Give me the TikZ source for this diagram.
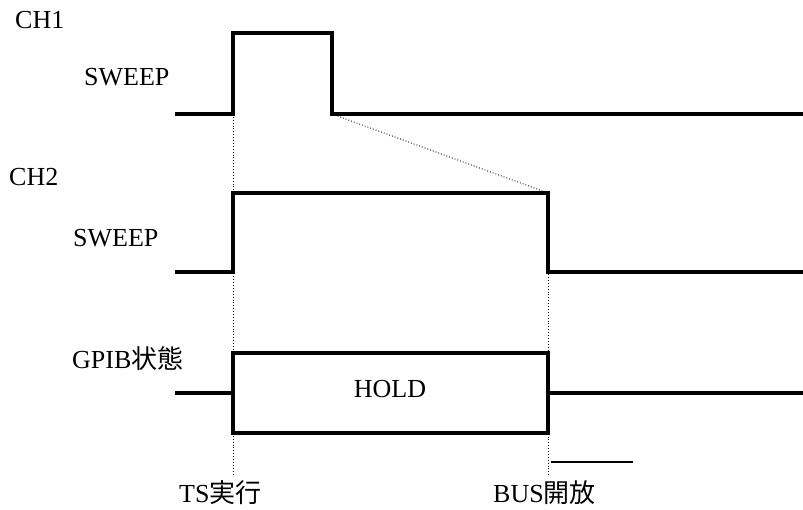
\documentclass[tikz,border=0pt]{standalone}
\usepackage{fontspec}
\setmainfont{Liberation Serif}
\newfontfamily\cjk{Noto Sans CJK JP}
\begin{document}
\begin{tikzpicture}[x=1pt,y=-1pt,
  wave/.style={line width=3.8pt, line join=miter},
  guide/.style={line width=0.9pt, dotted},
  thin/.style={line width=1.3pt},
  lbl/.style={font=\fontsize{26}{30}\selectfont, inner sep=0pt, anchor=base west}]
\useasboundingbox (0,0) rectangle (803,510);
% labels
\node[lbl] (ch1) at (15,29) {CH1};
\node[lbl] (sw1) at (84,86) {SWEEP};
\node[lbl] (ch2) at (9,186) {CH2};
\node[lbl] (sw2) at (73,247) {SWEEP};
\node[lbl] (gpib) at (72,369) {GPIB{\cjk 状態}};
\node[font=\fontsize{26}{30}\selectfont, inner sep=0pt, anchor=base] (hold) at (390,398) {HOLD};
\node[lbl] (ts) at (179,502) {TS{\cjk 実行}};
\node[lbl] (bus) at (493,502) {BUS{\cjk 開放}};
% key coordinates
\coordinate (a1) at (233,114);
\coordinate (f1) at (332,114);
\coordinate (r2) at (233,271);
\coordinate (t2) at (548,193);
\coordinate (e2) at (548,271);
\coordinate (g1) at (233,476);
\coordinate (g2) at (548,476);
% CH1 waveform
\draw[wave] (175,114) -- (a1) -- (233,33) -- (332,33) -- (f1) -- (803,114);
% CH2 waveform
\draw[wave] (175,272) -- (233,272) -- (233,193) -- (t2) -- (548,272) -- (803,272);
% GPIB
\draw[wave] (175,393) -- (233,393);
\draw[wave] (233,353) rectangle (548,433);
\draw[wave] (548,393) -- (803,393);
% guides
\draw[guide] (a1) -- (g1);
\draw[guide] (t2) -- (g2);
\draw[guide] (f1) -- (t2);
\draw[thin] (551,462) -- (633,462);
\end{tikzpicture}
\end{document}
